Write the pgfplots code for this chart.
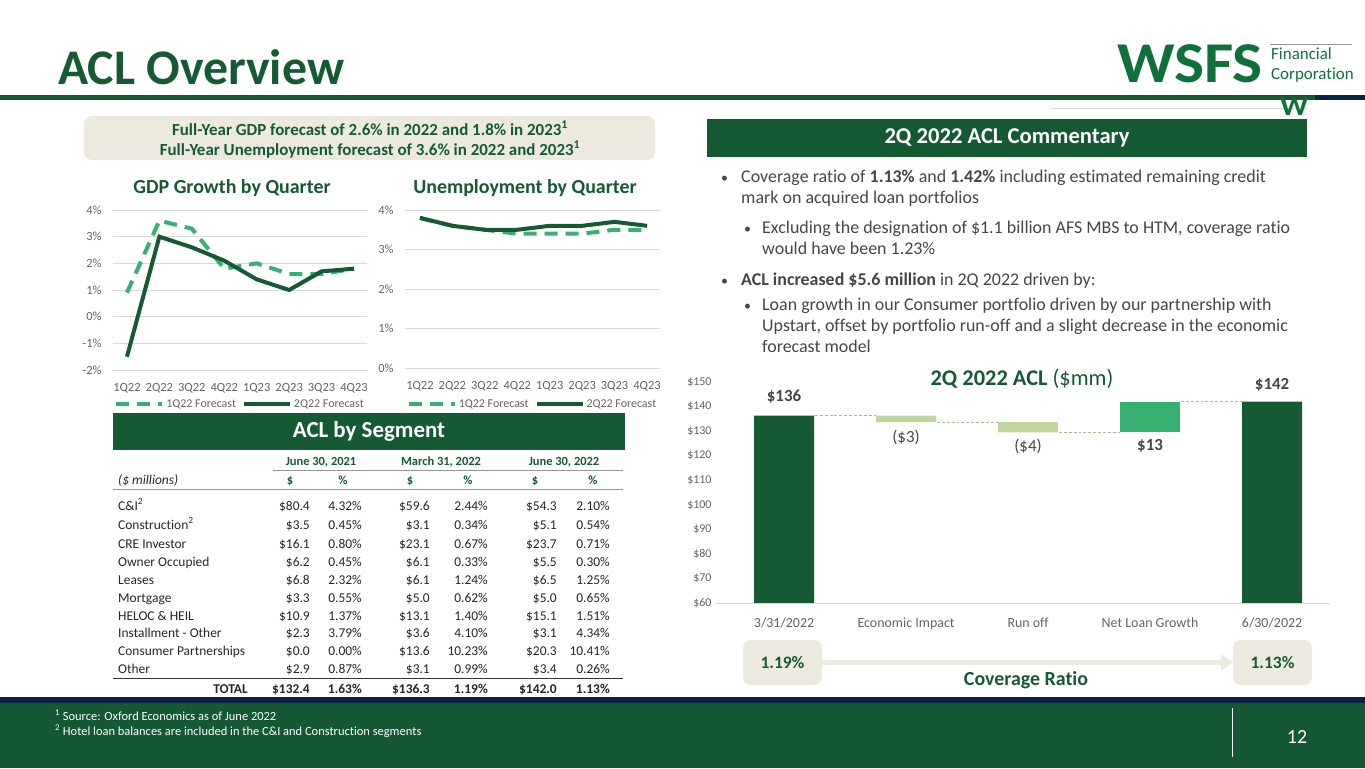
\documentclass[border=0pt]{standalone}
\usepackage{fontspec}
\setmainfont{Carlito}[Ligatures=NoCommon]
\usepackage{pgfplots}
\pgfplotsset{compat=1.18}
\usetikzlibrary{arrows.meta}

\definecolor{dkgreen}{RGB}{22,90,52}
\definecolor{logogreen}{RGB}{16,112,60}
\definecolor{medgreen}{RGB}{56,176,114}
\definecolor{olive}{RGB}{196,214,160}
\definecolor{beige}{RGB}{236,234,223}
\definecolor{beigearrow}{RGB}{236,235,226}
\definecolor{navy}{RGB}{12,36,68}
\definecolor{footgreen}{RGB}{20,88,52}
\definecolor{gridgray}{RGB}{217,217,217}
\definecolor{tickgray}{RGB}{100,100,100}
\definecolor{txtgray}{RGB}{70,70,70}
\definecolor{tabtext}{RGB}{38,38,38}
\definecolor{rulegray}{RGB}{150,150,150}
\definecolor{connector}{RGB}{170,185,150}

\newcommand\fs[1]{\fontsize{#1}{#1}\selectfont}

\pgfplotsset{
  smallline/.style={
    scale only axis, clip=false,
    axis line style={draw=none}, major tick length=0pt,
    ymajorgrids, grid style={draw=gridgray, line width=0.9bp},
    tick label style={font=\fs{12.5}, text=tickgray},
    xticklabel style={yshift=-10bp},
    yticklabel style={xshift=-8bp},
    /pgf/number format/assume math mode=true,
    xtick={0,...,7},
    xticklabels={1Q22,2Q22,3Q22,4Q22,1Q23,2Q23,3Q23,4Q23},
    yticklabel={\pgfmathprintnumber{\tick}\%},
    legend columns=2,
    legend style={at={(0.5,-0.215)}, anchor=center, draw=none, fill=none,
      font=\fs{12}, text=tickgray,
      /tikz/every even column/.append style={column sep=4bp}},
    legend image code/.code={\draw[##1] (0bp,0bp) -- (46bp,0bp);},
  },
  fc1/.style={medgreen, line width=4bp, dash pattern=on 13bp off 8bp},
  fc2/.style={dkgreen, line width=4bp},
}

\newcommand\trow[8]{%
  \node[lab] at (118,#1) {#2};
  \node[num] at (310,#1) {#3}; \node[num] at (362,#1) {#4};
  \node[num] at (430,#1) {#5}; \node[num] at (488,#1) {#6};
  \node[num] at (557,#1) {#7}; \node[num] at (610,#1) {#8};}

\begin{document}
\begin{tikzpicture}[x=1bp, y=-1bp,
  lab/.style={anchor=base west, inner sep=0, font=\fs{13.5}, text=tabtext},
  num/.style={anchor=base east, inner sep=0, font=\fs{13.5}, text=tabtext},
  numb/.style={anchor=base east, inner sep=0, font=\fs{13.5}\bfseries, text=tabtext},
  hd/.style={anchor=base, inner sep=0, font=\fs{12.5}\bfseries, text=dkgreen},
  bl/.style={anchor=base west, inner sep=0, font=\fs{18}, text=txtgray},
  dot/.style={anchor=base west, inner sep=0, font=\fs{14}, text=txtgray},
  conn/.style={densely dashed, draw=connector, line width=0.9}]
\path[use as bounding box] (0,0) rectangle (1365,768);
\fill[white] (0,0) rectangle (1365,768);

% header
\node[anchor=base west, inner sep=0, text=dkgreen, font=\fs{50}\bfseries] at (58,84) {ACL Overview};
\fill[dkgreen] (0,94.5) rectangle (1315,99.5);
\fill[navy] (1315,94.5) rectangle (1365,99.5);
\draw[gridgray, line width=0.8] (1050,108) -- (1307,108);
\node[anchor=base west, inner sep=0, text=logogreen, font=\fs{58}\bfseries, xscale=1.1] at (1117,82) {WSFS};
\draw[rulegray, line width=0.7] (1270,44) -- (1352,44);
\node[anchor=base west, inner sep=0, text=logogreen, font=\fs{17}] at (1271,60) {Financial};
\node[anchor=base west, inner sep=0, text=logogreen, font=\fs{17}] at (1271,79) {Corporation};
\node[anchor=base, inner sep=0, text=logogreen, font=\fs{27}\bfseries, xscale=1.15] at (1294,115) {W};

% forecast box
\fill[beige, rounded corners=8] (84,116) rectangle (655,160);
\node[anchor=base, inner sep=0, text=dkgreen, font=\fs{17}\bfseries] at (370,135) {Full-Year GDP forecast of 2.6\% in 2022 and 1.8\% in 2023\textsuperscript{1}};
\node[anchor=base, inner sep=0, text=dkgreen, font=\fs{17}\bfseries] at (370,155) {Full-Year Unemployment forecast of 3.6\% in 2022 and 2023\textsuperscript{1}};

% chart titles
\node[anchor=base, inner sep=0, text=dkgreen, font=\fs{20}\bfseries] at (232,193) {GDP Growth by Quarter};
\node[anchor=base, inner sep=0, text=dkgreen, font=\fs{20}\bfseries] at (525,193) {Unemployment by Quarter};

\begin{axis}[smallline, at={(113bp,-370bp)}, anchor=south west,
  width=254bp, height=160bp, xmin=-0.43, xmax=7.4,
  ymin=-2, ymax=4, ytick={-2,...,4}]
\addplot[fc1] coordinates {(0,0.9) (1,3.6) (2,3.3) (3,1.8) (4,2.0) (5,1.6) (6,1.6) (7,1.8)};
\addplot[fc2] coordinates {(0,-1.5) (1,3.0) (2,2.6) (3,2.1) (4,1.4) (5,1.0) (6,1.7) (7,1.8)};
\legend{1Q22 Forecast, 2Q22 Forecast}
\end{axis}

\begin{axis}[smallline, at={(405bp,-368bp)}, anchor=south west,
  width=255bp, height=158bp, xmin=-0.46, xmax=7.4,
  ymin=0, ymax=4, ytick={0,...,4},
  legend style={at={(0.5,-0.23)}}]
\addplot[fc1] coordinates {(0,3.8) (1,3.6) (2,3.5) (3,3.4) (4,3.4) (5,3.4) (6,3.5) (7,3.5)};
\addplot[fc2] coordinates {(0,3.8) (1,3.6) (2,3.5) (3,3.5) (4,3.6) (5,3.6) (6,3.7) (7,3.6)};
\legend{1Q22 Forecast, 2Q22 Forecast}
\end{axis}

% ACL by segment
\fill[dkgreen] (113,413) rectangle (625,450);
\node[text=white, font=\fs{23}\bfseries] at (369,431.5) {ACL by Segment};
\node[hd] at (321,465) {June 30, 2021};
\node[hd] at (441,465) {March 31, 2022};
\node[hd] at (564,465) {June 30, 2022};
\draw[rulegray, line width=1.3] (273,470.5) -- (623,470.5);
\node[lab, font=\fs{13.5}\itshape] at (118,484) {(\$ millions)};
\node[hd] at (290,484) {\$}; \node[hd] at (343,484) {\%};
\node[hd] at (410,484) {\$}; \node[hd] at (468,484) {\%};
\node[hd] at (535,484) {\$}; \node[hd] at (593,484) {\%};
\draw[rulegray, line width=1.3] (113,489.5) -- (623,489.5);
\trow{510}{C\&I\textsuperscript{2}}{\$80.4}{4.32\%}{\$59.6}{2.44\%}{\$54.3}{2.10\%}
\trow{529}{Construction\textsuperscript{2}}{\$3.5}{0.45\%}{\$3.1}{0.34\%}{\$5.1}{0.54\%}
\trow{548}{CRE Investor}{\$16.1}{0.80\%}{\$23.1}{0.67\%}{\$23.7}{0.71\%}
\trow{566.5}{Owner Occupied}{\$6.2}{0.45\%}{\$6.1}{0.33\%}{\$5.5}{0.30\%}
\trow{584}{Leases}{\$6.8}{2.32\%}{\$6.1}{1.24\%}{\$6.5}{1.25\%}
\trow{602}{Mortgage}{\$3.3}{0.55\%}{\$5.0}{0.62\%}{\$5.0}{0.65\%}
\trow{620}{HELOC \& HEIL}{\$10.9}{1.37\%}{\$13.1}{1.40\%}{\$15.1}{1.51\%}
\trow{637.5}{Installment - Other}{\$2.3}{3.79\%}{\$3.6}{4.10\%}{\$3.1}{4.34\%}
\trow{655}{Consumer Partnerships}{\$0.0}{0.00\%}{\$13.6}{10.23\%}{\$20.3}{10.41\%}
\trow{673}{Other}{\$2.9}{0.87\%}{\$3.1}{0.99\%}{\$3.4}{0.26\%}
\draw[black!80, line width=1] (113,678) -- (623,678);
\node[numb] at (248,693) {TOTAL};
\node[numb] at (310,693) {\$132.4}; \node[numb] at (362,693) {1.63\%};
\node[numb] at (430,693) {\$136.3}; \node[numb] at (488,693) {1.19\%};
\node[numb] at (557,693) {\$142.0}; \node[numb] at (610,693) {1.13\%};

% commentary
\fill[dkgreen] (707,119) rectangle (1307,157);
\node[text=white, font=\fs{22.7}\bfseries] at (1007,138) {2Q 2022 ACL Commentary};
\node[dot] at (721,182) {\textbullet};
\node[bl] at (741,182) {Coverage ratio of \textbf{1.13\%} and \textbf{1.42\%} including estimated remaining credit};
\node[bl] at (741,203) {mark on acquired loan portfolios};
\node[dot] at (744,233.5) {\textbullet};
\node[bl] at (762,233.5) {Excluding the designation of \$1.1 billion AFS MBS to HTM, coverage ratio};
\node[bl] at (762,254) {would have been 1.23\%};
\node[dot] at (721,285) {\textbullet};
\node[bl] at (741,285) {\textbf{ACL increased \$5.6 million} in 2Q 2022 driven by:};
\node[dot] at (744,310) {\textbullet};
\node[bl] at (762,310) {Loan growth in our Consumer portfolio driven by our partnership with};
\node[bl] at (762,331) {Upstart, offset by portfolio run-off and a slight decrease in the economic};
\node[bl] at (762,352) {forecast model};

% waterfall
\node[anchor=base, inner sep=0, text=dkgreen, font=\fs{22.5}] at (1022,385) {\textbf{2Q 2022 ACL} (\$mm)};
\begin{axis}[at={(715bp,-603bp)}, anchor=south west, scale only axis,
  width=615bp, height=221bp, xmin=-0.566, xmax=4.475,
  ymin=60, ymax=150, ytick={60,70,...,150},
  yticklabel={\$\pgfmathprintnumber{\tick}},
  xtick={0,...,4},
  xticklabels={3/31/2022, Economic Impact, Run off, Net Loan Growth, 6/30/2022},
  axis line style={draw=none}, major tick length=0pt,
  /pgf/number format/assume math mode=true,
  yticklabel style={font=\fs{12}, text=tickgray},
  xticklabel style={font=\fs{14}, text=tickgray, yshift=-11bp},
  ybar stacked, bar width=60bp]
\addplot[draw=none, fill=none] coordinates {(0,0) (1,133.7) (2,129.5) (3,129.5) (4,0)};
\addplot[draw=none, fill=dkgreen] coordinates {(0,136.3) (1,0) (2,0) (3,0) (4,142.0)};
\addplot[draw=none, fill=olive] coordinates {(0,0) (1,2.6) (2,4.2) (3,0) (4,0)};
\addplot[draw=none, fill=medgreen] coordinates {(0,0) (1,0) (2,0) (3,12.5) (4,0)};
\end{axis}
% axis-space overlays drawn in a second, empty axis with the same geometry
\begin{axis}[at={(715bp,-603bp)}, anchor=south west, scale only axis,
  width=615bp, height=221bp, xmin=-0.566, xmax=4.475,
  ymin=60, ymax=150, hide axis, clip=false]
\addplot[gridgray, line width=1] coordinates {(-0.566,60) (4.475,60)};
\addplot[conn] coordinates {(0.25,136.3) (0.75,136.3)};
\addplot[conn] coordinates {(1.25,133.7) (1.75,133.7)};
\addplot[conn] coordinates {(2.25,129.5) (2.75,129.5)};
\addplot[conn] coordinates {(3.25,142.0) (3.75,142.0)};
\node[font=\fs{17}\bfseries, text=txtgray] at (axis cs:0,143.9) {\$136};
\node[font=\fs{17}, text=txtgray] at (axis cs:1,127.6) {(\$3)};
\node[font=\fs{17}, text=txtgray] at (axis cs:2,123.6) {(\$4)};
\node[font=\fs{17}\bfseries, text=txtgray] at (axis cs:3,123.8) {\$13};
\node[font=\fs{17}\bfseries, text=txtgray] at (axis cs:4,148.8) {\$142};
\end{axis}

% coverage ratio
\draw[beigearrow, line width=5, -{Triangle[length=12, width=16]}] (822,662.5) -- (1233,662.5);
\fill[beige, rounded corners=8] (743,640) rectangle (822,685);
\fill[beige, rounded corners=8] (1233,640) rectangle (1312,685);
\node[text=dkgreen, font=\fs{17.5}\bfseries] at (782.5,663) {1.19\%};
\node[text=dkgreen, font=\fs{17.5}\bfseries] at (1272.5,663) {1.13\%};
\node[text=dkgreen, font=\fs{20}\bfseries] at (1026,680.5) {Coverage Ratio};

% footer
\fill[navy] (0,697) rectangle (1365,703);
\fill[footgreen] (0,703) rectangle (1365,768);
\node[anchor=base west, inner sep=0, text=white, font=\fs{12.5}] at (55,720) {\textsuperscript{1} Source: Oxford Economics as of June 2022};
\node[anchor=base west, inner sep=0, text=white, font=\fs{12.5}] at (55,735) {\textsuperscript{2} Hotel loan balances are included in the C\&I and Construction segments};
\draw[white, line width=1] (1232,708) -- (1232,757);
\node[text=white, font=\fs{20}] at (1297,737) {12};
\end{tikzpicture}
\end{document}
